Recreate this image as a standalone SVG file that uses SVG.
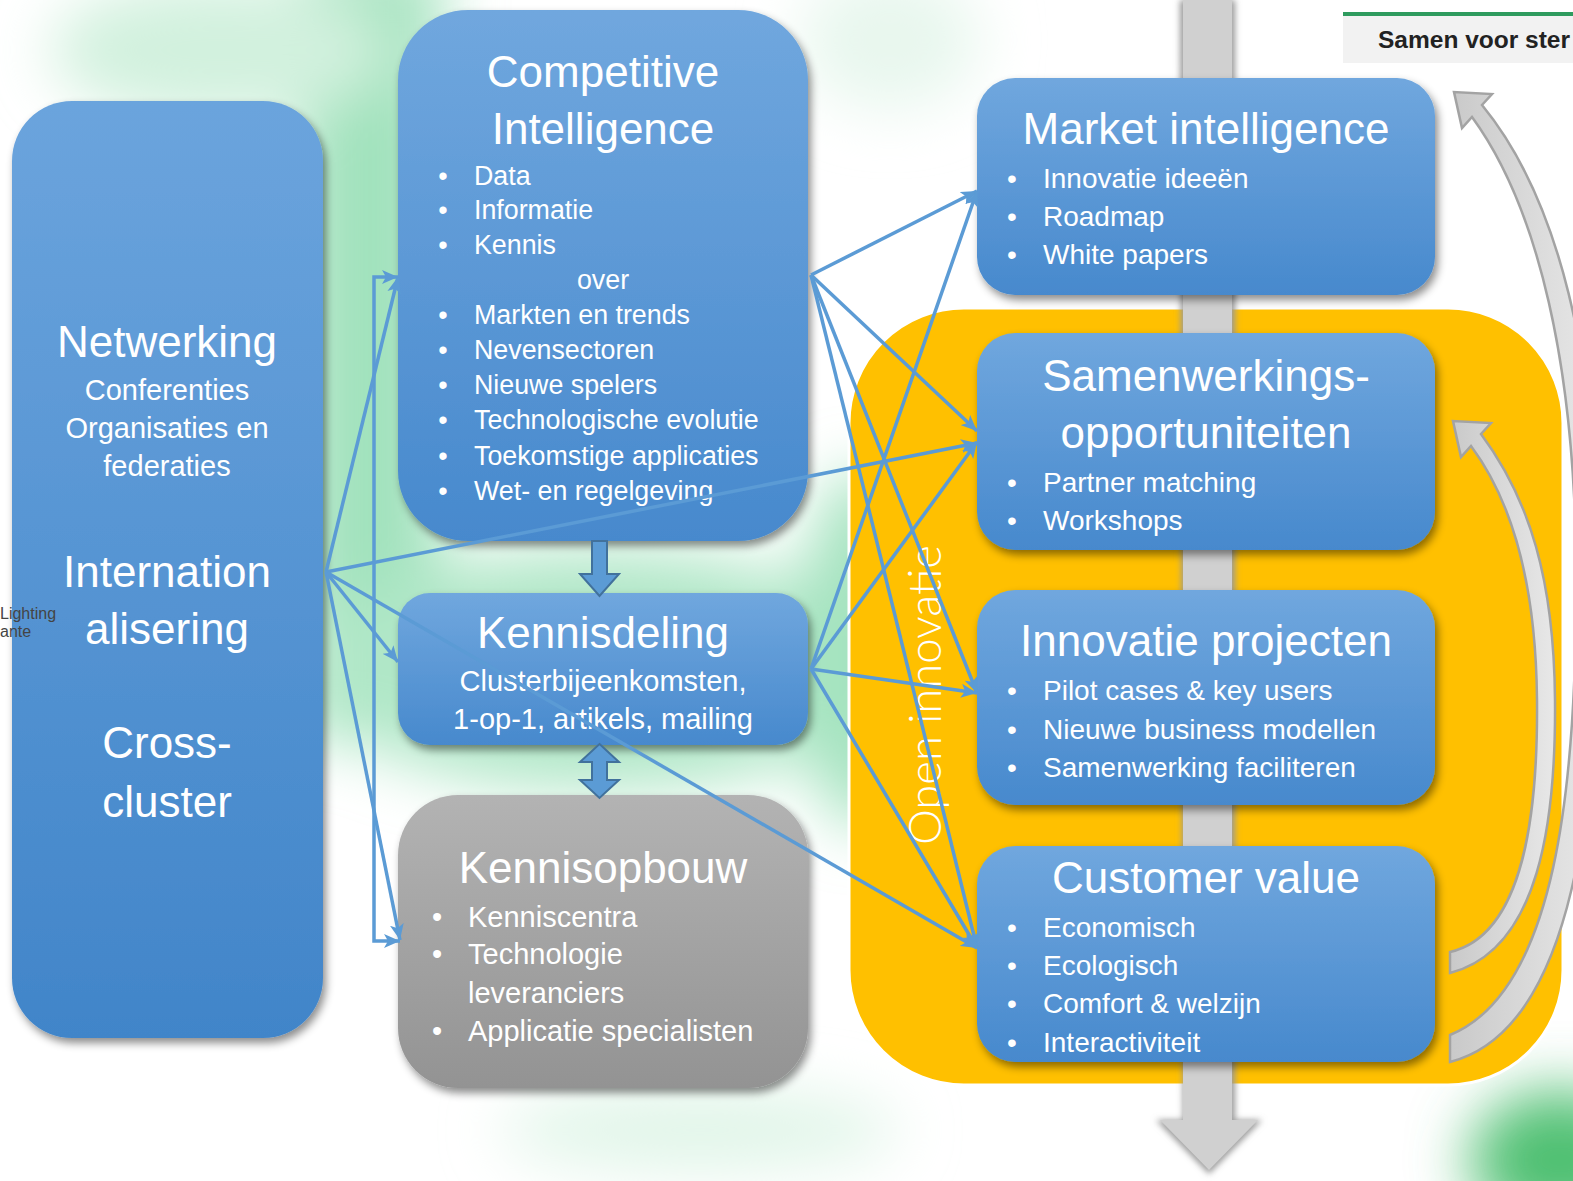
<svg xmlns="http://www.w3.org/2000/svg" width="1573" height="1181" viewBox="0 0 1573 1181">
<defs>
<style>
.t{font-family:"Liberation Sans",Arial,sans-serif;fill:#fff}
.ti{font-size:44px;text-anchor:middle}
.b{font-size:26.8px}
.b2{font-size:28px}
.b3{font-size:29px}
.ca{stroke:#5b9bd5;stroke-width:3.5;fill:none;marker-end:url(#ah)}
.blk{fill:#5b9bd5;stroke:#41719c;stroke-width:2}
.crv{fill:url(#gc);stroke:#a3a3a3;stroke-width:2.5}
</style>
<linearGradient id="gb" x1="0" y1="0" x2="0" y2="1"><stop offset="0" stop-color="#70a7de"/><stop offset="1" stop-color="#4789cd"/></linearGradient>
<linearGradient id="gl" x1="0" y1="0" x2="0" y2="1"><stop offset="0" stop-color="#6ba4dd"/><stop offset="1" stop-color="#4185c9"/></linearGradient>
<linearGradient id="gg" x1="0" y1="0" x2="0" y2="1"><stop offset="0" stop-color="#b3b3b3"/><stop offset="1" stop-color="#939393"/></linearGradient>
<linearGradient id="gc" x1="0" y1="0" x2="1" y2="0"><stop offset="0" stop-color="#c9c9c9"/><stop offset="1" stop-color="#e8e8e8"/></linearGradient>
<filter id="sh" x="-10%" y="-10%" width="125%" height="125%"><feDropShadow dx="3" dy="5" stdDeviation="4" flood-color="#000" flood-opacity="0.45"/></filter>
<filter id="bl" x="-50%" y="-50%" width="200%" height="200%"><feGaussianBlur stdDeviation="30"/></filter>
<filter id="gw" x="-20%" y="-20%" width="140%" height="140%"><feGaussianBlur stdDeviation="3"/></filter>
<marker id="ah" markerUnits="userSpaceOnUse" markerWidth="18" markerHeight="14" refX="16" refY="7" orient="auto"><path d="M0,0 L16,7 L0,14 L4,7 Z" fill="#5b9bd5"/></marker>
<marker id="as" markerUnits="userSpaceOnUse" markerWidth="18" markerHeight="14" refX="2" refY="7" orient="auto"><path d="M18,0 L2,7 L18,14 L14,7 Z" fill="#5b9bd5"/></marker>
</defs>
<rect width="1573" height="1181" fill="#fff"/>
<g id="background" filter="url(#bl)">
<rect x="300" y="-40" width="140" height="780" fill="#a2e2bd"/>
<ellipse cx="220" cy="50" rx="170" ry="70" fill="#d2f1de"/>
<ellipse cx="600" cy="670" rx="300" ry="120" fill="#b0e7c7"/>
<ellipse cx="860" cy="650" rx="60" ry="180" fill="#a4e3bf"/>
<ellipse cx="700" cy="1130" rx="200" ry="40" fill="#e0f5e8"/>
<ellipse cx="1560" cy="1160" rx="90" ry="70" fill="#4fc072"/>
<ellipse cx="890" cy="40" rx="90" ry="70" fill="#e8f7ee"/>
</g>
<g id="open-innovatie">
<rect x="849" y="308" width="714" height="777" rx="115" fill="#ffc000" stroke="#fff" stroke-width="3"/>
<text class="t" transform="translate(941,695) rotate(-90)" text-anchor="middle" font-size="46" textLength="300" lengthAdjust="spacingAndGlyphs" style="font-family:Lato,'Liberation Sans',sans-serif;font-weight:300">Open innovatie</text>
</g>
<g id="flow-arrow">
<path d="M1180,0 H1235 V1120 H1262 L1209,1174 L1156,1120 H1183 Z" fill="#9a9a9a" filter="url(#gw)"/>
<path d="M1183,0 H1232 V1120 H1258 L1209,1170 L1160,1120 H1183 Z" fill="#d0d0d0"/>
</g>
<g id="cycle-arrows">
<path class="crv" d="M1450,1062 C1575,1030 1600,800 1598,560 C1596,360 1560,200 1482,105 L1492,94 L1454,92 L1462,128 L1472,117 C1540,210 1574,370 1576,560 C1578,790 1555,992 1450,1035 Z"/>
<path class="crv" d="M1450,973 C1540,950 1556,820 1555,700 C1554,580 1530,500 1481,434 L1491,423 L1453,421 L1461,457 L1471,446 C1515,505 1536,590 1537,700 C1538,810 1525,935 1450,952 Z"/>
</g>
<g id="samen">
<rect x="1343" y="15" width="230" height="48" fill="#f2f2f2"/>
<rect x="1343" y="12" width="230" height="4" fill="#2f9b5e"/>
<text x="1378" y="48" font-family="Liberation Sans,Arial,sans-serif" font-weight="bold" font-size="23" textLength="192" lengthAdjust="spacingAndGlyphs" fill="#222">Samen voor ster</text>
</g>
<g id="left-column">
<rect x="12" y="101" width="311" height="937" rx="60" fill="url(#gl)" filter="url(#sh)"/>
<text class="t ti" x="167" y="357">Netwerking</text>
<text class="t b3" x="167" y="400" text-anchor="middle">Conferenties</text>
<text class="t b3" x="167" y="438" text-anchor="middle">Organisaties en</text>
<text class="t b3" x="167" y="476" text-anchor="middle">federaties</text>
<text class="t ti" x="167" y="587" font-size="45">Internation</text>
<text class="t ti" x="167" y="644" font-size="45">alisering</text>
<text class="t ti" x="167" y="758" font-size="45">Cross-</text>
<text class="t ti" x="167" y="817" font-size="45">cluster</text>
</g>
<g id="side-note">
<text x="0" y="619" font-family="Liberation Sans,Arial,sans-serif" font-size="16" fill="#444">Lighting</text>
<text x="0" y="637" font-family="Liberation Sans,Arial,sans-serif" font-size="16" fill="#444">ante</text>
</g>
<g id="competitive-intelligence">
<rect x="398" y="10" width="410" height="531" rx="70" fill="url(#gb)" filter="url(#sh)"/>
<text class="t ti" x="603" y="87">Competitive</text>
<text class="t ti" x="603" y="144">Intelligence</text>
<g class="t b">
<text x="443" y="185" text-anchor="middle">•</text><text x="474" y="185">Data</text>
<text x="443" y="219" text-anchor="middle">•</text><text x="474" y="219">Informatie</text>
<text x="443" y="254" text-anchor="middle">•</text><text x="474" y="254">Kennis</text>
<text x="603" y="289" text-anchor="middle">over</text>
<text x="443" y="324" text-anchor="middle">•</text><text x="474" y="324">Markten en trends</text>
<text x="443" y="359" text-anchor="middle">•</text><text x="474" y="359">Nevensectoren</text>
<text x="443" y="394" text-anchor="middle">•</text><text x="474" y="394">Nieuwe spelers</text>
<text x="443" y="429" text-anchor="middle">•</text><text x="474" y="429">Technologische evolutie</text>
<text x="443" y="465" text-anchor="middle">•</text><text x="474" y="465">Toekomstige applicaties</text>
<text x="443" y="500" text-anchor="middle">•</text><text x="474" y="500">Wet- en regelgeving</text>
</g>
</g>
<g id="kennisdeling">
<rect x="398" y="593" width="410" height="152" rx="32" fill="url(#gb)" filter="url(#sh)"/>
<text class="t ti" x="603" y="648" font-size="43">Kennisdeling</text>
<text class="t b3" x="603" y="691" text-anchor="middle">Clusterbijeenkomsten,</text>
<text class="t b3" x="603" y="729" text-anchor="middle">1-op-1, artikels, mailing</text>
</g>
<g id="kennisopbouw">
<rect x="398" y="795" width="410" height="293" rx="60" fill="url(#gg)" filter="url(#sh)"/>
<text class="t ti" x="603" y="883">Kennisopbouw</text>
<g class="t b3">
<text x="437" y="927" text-anchor="middle">•</text><text x="468" y="927">Kenniscentra</text>
<text x="437" y="964" text-anchor="middle">•</text><text x="468" y="964">Technologie</text>
<text x="468" y="1003">leveranciers</text>
<text x="437" y="1041" text-anchor="middle">•</text><text x="468" y="1041">Applicatie specialisten</text>
</g>
</g>
<g id="block-arrows">
<path class="blk" d="M592,541 H607 V574 H619 L599.5,596 L580,574 H592 Z"/>
<path class="blk" d="M599.5,744 L619,762 H607 V780 H619 L599.5,798 L580,780 H592 V762 H580 Z"/>
</g>
<g id="market-intelligence">
<rect x="977" y="78" width="458" height="217" rx="38" fill="url(#gb)" filter="url(#sh)"/>
<text class="t ti" x="1206" y="144">Market intelligence</text>
<g class="t b2">
<text x="1012" y="188" text-anchor="middle">•</text><text x="1043" y="188">Innovatie ideeën</text>
<text x="1012" y="226" text-anchor="middle">•</text><text x="1043" y="226">Roadmap</text>
<text x="1012" y="264" text-anchor="middle">•</text><text x="1043" y="264">White papers</text>
</g>
</g>
<g id="samenwerkingsopportuniteiten">
<rect x="977" y="333" width="458" height="217" rx="38" fill="url(#gb)" filter="url(#sh)"/>
<text class="t ti" x="1206" y="391">Samenwerkings-</text>
<text class="t ti" x="1206" y="448">opportuniteiten</text>
<g class="t b2">
<text x="1012" y="492" text-anchor="middle">•</text><text x="1043" y="492">Partner matching</text>
<text x="1012" y="530" text-anchor="middle">•</text><text x="1043" y="530">Workshops</text>
</g>
</g>
<g id="innovatie-projecten">
<rect x="977" y="590" width="458" height="215" rx="38" fill="url(#gb)" filter="url(#sh)"/>
<text class="t ti" x="1206" y="656">Innovatie projecten</text>
<g class="t b2">
<text x="1012" y="700" text-anchor="middle">•</text><text x="1043" y="700">Pilot cases &amp; key users</text>
<text x="1012" y="739" text-anchor="middle">•</text><text x="1043" y="739">Nieuwe business modellen</text>
<text x="1012" y="777" text-anchor="middle">•</text><text x="1043" y="777">Samenwerking faciliteren</text>
</g>
</g>
<g id="customer-value">
<rect x="977" y="846" width="458" height="216" rx="38" fill="url(#gb)" filter="url(#sh)"/>
<text class="t ti" x="1206" y="893">Customer value</text>
<g class="t b2">
<text x="1012" y="937" text-anchor="middle">•</text><text x="1043" y="937">Economisch</text>
<text x="1012" y="975" text-anchor="middle">•</text><text x="1043" y="975">Ecologisch</text>
<text x="1012" y="1013" text-anchor="middle">•</text><text x="1043" y="1013">Comfort &amp; welzijn</text>
<text x="1012" y="1052" text-anchor="middle">•</text><text x="1043" y="1052">Interactiviteit</text>
</g>
</g>
<g id="connectors">
<path class="ca" d="M398,277 H374 V941 H400" marker-start="url(#as)"/>
<path class="ca" d="M326,572 L398,277"/>
<path class="ca" d="M326,572 L977,443"/>
<path class="ca" d="M326,572 L398,662"/>
<path class="ca" d="M326,572 L977,948"/>
<path class="ca" d="M326,572 L400,940"/>
<path class="ca" d="M811,275 L977,191"/>
<path class="ca" d="M811,275 L977,431"/>
<path class="ca" d="M811,275 L977,693"/>
<path class="ca" d="M811,275 L977,948"/>
<path class="ca" d="M811,669 L977,191"/>
<path class="ca" d="M811,669 L977,442"/>
<path class="ca" d="M811,669 L977,693"/>
<path class="ca" d="M811,669 L977,948"/>
</g>
</svg>
